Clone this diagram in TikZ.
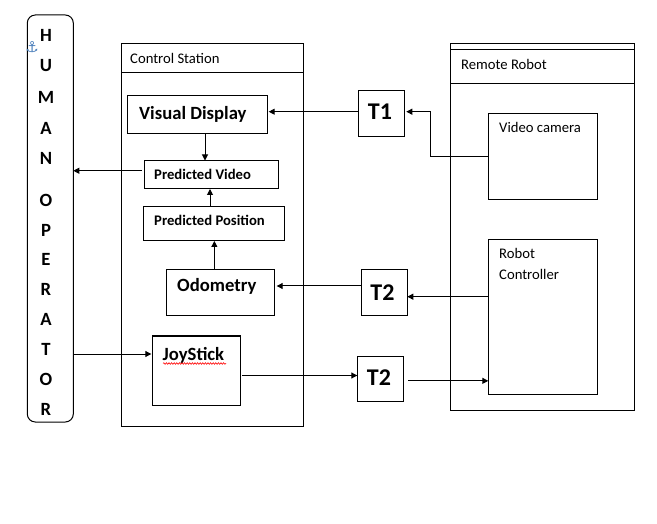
\documentclass[tikz,border=0pt]{standalone}
\usepackage{fontspec}
\setmainfont{Carlito}
\newfontfamily\symfont{DejaVu Sans}
\usetikzlibrary{arrows.meta,decorations.pathmorphing,calc}
\definecolor{anchorblue}{HTML}{4A7EBB}
\begin{document}
\begin{tikzpicture}[x=1pt,y=-1pt,
  box/.style={draw, line width=1pt, inner sep=0pt, outer sep=0pt, anchor=north west},
  arr/.style={line width=1pt, -{Triangle[length=6pt,width=6pt]}},
  plain/.style={line width=1pt},
  small/.style={inner sep=0pt, font=\fontsize{14.67}{17}\selectfont},
  big/.style={inner sep=0pt, font=\bfseries\fontsize{18.67}{21}\selectfont},
  mid/.style={inner sep=0pt, font=\bfseries\fontsize{14.67}{17}\selectfont},
  tbig/.style={inner sep=0pt, font=\bfseries\fontsize{24}{27}\selectfont},
  hl/.style={inner sep=0pt, font=\bfseries\fontsize{18.67}{21}\selectfont}]
\path[use as bounding box, fill=white] (0,0) rectangle (657,524);

% human operator
\node[box, rounded corners=8pt, minimum width=46pt, minimum height=407pt] (ho) at (27.3,15) {};
\foreach \l/\y [count=\i] in {H/35,U/66,M/97,A/128,N/158,O/200,P/230,E/259,R/289,A/319,T/349,O/379,R/409}
  \node[hl] (h\i) at (46,\y) {\l};
\node[inner sep=0pt, text=anchorblue, font=\symfont\bfseries\fontsize{15}{15}\selectfont] (anc) at (32,47) {⚓};

% control station
\node[box, minimum width=182.3pt, minimum height=382.7pt] (cs) at (121,44) {};
\coordinate (csd) at (121,72.7);
\draw[plain] (csd) -- (csd -| cs.east);
\node[small, anchor=base west] (cst) at (130,64) {Control Station};

\node[box, minimum width=140pt, minimum height=37.3pt] (vd) at (127.7,96) {};
\node[big, anchor=base west] (vdt) at (139,120) {Visual Display};
\node[box, minimum width=134pt, minimum height=28.5pt] (pv) at (144,160.5) {};
\node[mid, anchor=base west] (pvt) at (154,179.5) {Predicted Video};
\node[box, minimum width=141pt, minimum height=34.3pt] (pp) at (143,206.7) {};
\node[mid, anchor=base west] (ppt) at (154,226) {Predicted Position};
\node[box, minimum width=108.3pt, minimum height=46pt] (odo) at (166,269.3) {};
\node[big, anchor=base west] (odot) at (177,292) {Odometry};
\node[box, minimum width=88.4pt, minimum height=69pt] (js) at (152.3,336) {};
\node[big, anchor=base west] (jst) at (162.5,360) {JoyStick};
\coordinate (wv1) at (163,363.5);
\coordinate (wv2) at (226,363.5);
\draw[red, line width=0.6pt, decorate, decoration={snake, amplitude=0.8pt, segment length=2.6pt}] (wv1) -- (wv2);

% T boxes
\node[box, minimum width=46pt, minimum height=46pt] (t1) at (358.3,90.7) {};
\node[tbig] (t1t) at (380,111.5) {T1};
\node[box, minimum width=46.3pt, minimum height=46pt] (t2a) at (361,270) {};
\node[tbig] (t2at) at (382.5,293) {T2};
\node[box, minimum width=46pt, minimum height=45.7pt] (t2b) at (357.3,356) {};
\node[tbig] (t2bt) at (379,377.5) {T2};

% remote robot
\node[box, minimum width=183.6pt, minimum height=366.7pt] (rr) at (450.7,43.3) {};
\coordinate (rrd1) at (450.7,50);
\coordinate (rrd2) at (450.7,83.3);
\draw[plain] (rrd1) -- (rrd1 -| rr.east);
\draw[plain] (rrd2) -- (rrd2 -| rr.east);
\node[small, anchor=base west] (rrt) at (461,70) {Remote Robot};
\node[box, minimum width=109pt, minimum height=86.7pt] (cam) at (488.3,113.3) {};
\node[small, anchor=base west] (camt) at (499,133) {Video camera};
\node[box, minimum width=109pt, minimum height=154.7pt] (rc) at (488.3,239.3) {};
\node[small, anchor=base west] (rct1) at (499,258.5) {Robot};
\node[small, anchor=base west] (rct2) at (499,279.5) {Controller};

% connectors
\draw[arr, shorten >=1pt] ([yshift=2pt]t1.west) -- ([yshift=2pt]t1.west -| vd.east);
\draw[arr, shorten >=2pt] (cam.west) -| ($(t1.east)!0.5!(cam.west)+(-16,0)$) |- ([yshift=2pt]t1.east);
\draw[arr] ([xshift=7.3pt]vd.south) -- ([xshift=7.3pt]vd.south |- pv.north);
\draw[arr] ([yshift=4pt,xshift=-2pt]pv.west) -- ([yshift=4pt]pv.west -| ho.east);
\draw[arr] ([xshift=-3.5pt]pp.north) -- ([xshift=-3.5pt]pp.north |- pv.south);
\draw[arr] ([xshift=-5.8pt]odo.north) -- ([xshift=-5.8pt]odo.north |- pp.south);
\draw[arr, shorten >=2.4pt] ([yshift=7pt]t2a.west) -- ([yshift=7pt]t2a.west -| odo.east);
\draw[arr] ([yshift=-3.7pt]t2a.east -| rc.west) -- ([yshift=-3.7pt]t2a.east);
\draw[arr, shorten >=1pt] ([yshift=16.5pt]js.west -| ho.east) -- ([yshift=16.5pt]js.west);
\draw[arr] ([xshift=1.5pt,yshift=-5pt]js.east) -- ([yshift=-5pt]js.east -| t2b.west);
\draw[arr] ([xshift=4.7pt,yshift=-2pt]t2b.east) -- ([yshift=-2pt]t2b.east -| rc.west);
\end{tikzpicture}
\end{document}
